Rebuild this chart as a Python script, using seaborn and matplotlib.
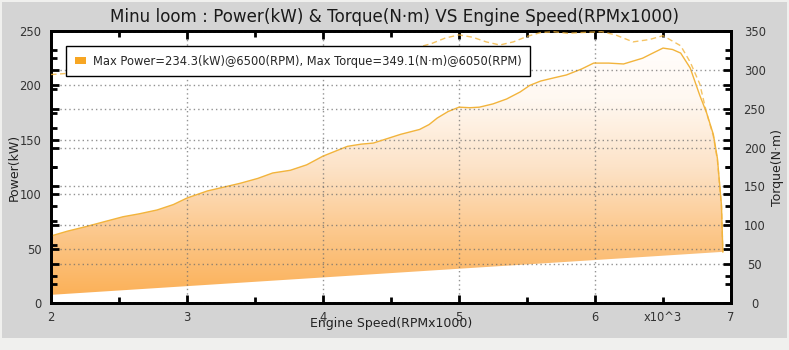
import numpy as np
import matplotlib
matplotlib.use("Agg")
import matplotlib.pyplot as plt
from matplotlib.colors import LinearSegmentedColormap
from matplotlib.patches import Polygon, Rectangle
from matplotlib.ticker import MultipleLocator, FixedLocator, FixedFormatter
import seaborn as sns

# ---- data -------------------------------------------------------------
rpm_power = [2.0, 2.12, 2.25, 2.4, 2.53, 2.65, 2.78, 2.9, 3.0, 3.15, 3.27, 3.39,
             3.52, 3.63, 3.76, 3.88, 4.0, 4.1, 4.18, 4.28, 4.37, 4.47, 4.57,
             4.71, 4.78, 4.84, 4.92, 5.0, 5.08, 5.15, 5.25, 5.35, 5.45, 5.52,
             5.6, 5.7, 5.79, 5.9, 5.99, 6.1, 6.21, 6.35, 6.43, 6.5, 6.57, 6.63,
             6.7, 6.77, 6.82, 6.87, 6.9, 6.93, 6.94]
power_kw = [61.6, 66.0, 70.0, 75.0, 79.3, 82.0, 85.5, 90.5, 96.5, 103.0, 106.5,
            110.0, 114.5, 119.5, 122.0, 127.0, 135.0, 140.0, 144.0, 146.0, 147.0,
            151.0, 155.0, 159.5, 164.0, 170.0, 176.0, 180.0, 179.5, 180.0, 183.0,
            187.5, 194.0, 200.0, 204.0, 207.0, 209.6, 215.0, 220.5, 220.5, 219.7,
            225.0, 230.0, 234.3, 233.0, 229.7, 216.0, 191.0, 175.0, 155.0, 133.0,
            90.0, 47.0]

rpm_torque = [2.0, 2.25, 2.5, 2.75, 3.0, 3.25, 3.5, 3.75, 4.0, 4.2, 4.4, 4.6,
              4.8, 4.9, 5.0, 5.1, 5.2, 5.3, 5.4, 5.5, 5.6, 5.7, 5.8, 5.9, 6.05,
              6.15, 6.28, 6.4, 6.5, 6.57, 6.63, 6.7, 6.77, 6.82, 6.87, 6.9, 6.93,
              6.94]
torque_nm = [294, 297, 302, 297, 307, 311, 300, 310, 322, 329, 320, 324, 334, 341,
             345, 342, 336, 332, 336, 343, 348, 349, 347, 348, 349.1, 345, 336,
             339, 344, 337, 331, 310, 282, 245, 215, 184, 124, 65]

# lower edge of the shaded power band
base_rpm = [2.0, 6.94]
base_kw = [7.5, 47.0]

x_ticks = [2, 3, 4, 5, 6, 7]
x_minor = [2.5, 3.5, 4.5, 5.5, 6.5]
x_minor_labels = ["", "", "", "", "x10^3"]

title = "Minu loom : Power(kW) & Torque(N\u00b7m) VS Engine Speed(RPMx1000)"
legend_text = ("Max Power=234.3(kW)@6500(RPM), "
               "Max Torque=349.1(N\u00b7m)@6050(RPM)")

# ---- style ------------------------------------------------------------
sns.set_style("white")
plt.rcParams["font.family"] = ["DejaVu Sans"]

line_col = "#f2b43c"
grid_kw = dict(color="#6e6e6e", linestyle=(0, (1.0, 2.2)), linewidth=1.0, alpha=0.75)

fig = plt.figure(figsize=(7.89, 3.5), dpi=100, facecolor="#f0f0ee")
fig.patches.append(Rectangle((2 / 789, 12 / 350), 785 / 789, 336 / 350,
                             transform=fig.transFigure, facecolor="#d4d4d4",
                             edgecolor="none", zorder=-10))

ax = fig.add_axes([51 / 789, 47 / 350, 680 / 789, 272 / 350])
ax.set_facecolor("white")

# gradient-filled band between the base line and the power curve
grad = np.linspace(0, 1, 256).reshape(-1, 1)
cmap = LinearSegmentedColormap.from_list(
    "band", ["#fbae52", "#fcc78a", "#fde3c8", "#fff8f1", "#ffffff"])
im = ax.imshow(grad, extent=[2, 7, 0, 250], origin="lower", aspect="auto",
               cmap=cmap, zorder=1, interpolation="bilinear")
verts = np.column_stack([rpm_power + base_rpm[::-1], power_kw + base_kw[::-1]])
band = Polygon(verts, closed=True, transform=ax.transData,
               facecolor="none", edgecolor="none")
ax.add_patch(band)
im.set_clip_path(band)

sns.lineplot(x=rpm_power, y=power_kw, ax=ax, color=line_col, linewidth=1.0,
             zorder=4)

ax.set_xlim(2, 7)
ax.set_ylim(0, 250)
ax.xaxis.set_major_locator(FixedLocator(x_ticks))
ax.xaxis.set_minor_locator(FixedLocator(x_minor))
ax.xaxis.set_minor_formatter(FixedFormatter(x_minor_labels))
ax.yaxis.set_major_locator(MultipleLocator(50))
ax.yaxis.set_minor_locator(MultipleLocator(25))
ax.set_axisbelow(False)
ax.grid(True, which="major", **grid_kw)

ax2 = ax.twinx()
sns.lineplot(x=rpm_torque, y=torque_nm, ax=ax2, color=line_col, linewidth=1.0,
             alpha=0.8, zorder=4)
ax2.lines[0].set_linestyle((0, (4, 2.5)))
ax2.set_ylim(0, 350)
ax2.yaxis.set_major_locator(MultipleLocator(50))
ax2.yaxis.set_minor_locator(MultipleLocator(25))
ax2.grid(True, which="major", axis="y", **grid_kw)

for a in (ax, ax2):
    for sp in a.spines.values():
        sp.set_linewidth(2)
        sp.set_color("black")
        sp.set_visible(True)

ax.tick_params(which="both", direction="in", top=True, bottom=True, left=True,
               right=True, labelright=False, labelleft=True, color="black",
               width=2, labelsize=8.3, labelcolor="#333333")
ax.tick_params(which="major", length=6)
ax.tick_params(which="minor", length=4)
ax.tick_params(axis="x", which="both", pad=5.5)
ax.tick_params(axis="y", which="major", pad=7)

ax2.tick_params(which="both", direction="in", left=True, right=True,
                labelleft=False, labelright=True, color="black", width=2,
                labelsize=8.3, labelcolor="#333333")
ax2.tick_params(which="major", length=6, pad=17)
ax2.tick_params(which="minor", length=4)
for lab in ax2.get_yticklabels():
    lab.set_horizontalalignment("center")

ax.set_xlabel("Engine Speed(RPMx1000)", fontsize=9, color="#222222", labelpad=-5)
ax.set_ylabel("Power(kW)", fontsize=9, color="#222222", labelpad=-1)
ax2.set_ylabel("Torque(N\u00b7m)", fontsize=9, color="#222222", labelpad=4)

fig.suptitle(title, x=395 / 789, y=0.951, va="center", fontsize=12.1,
             color="#1a1a1a")

handle = Rectangle((0, 0), 1, 1, facecolor="#f7a623", edgecolor="none")
leg = ax2.legend([handle], [legend_text], loc="upper left",
                 bbox_to_anchor=(0.022, 0.945), fontsize=8.3, frameon=True,
                 fancybox=False, borderpad=0.75, handlelength=1.0,
                 handleheight=0.55, handletextpad=0.6, borderaxespad=0)
leg.get_frame().set_edgecolor("black")
leg.get_frame().set_linewidth(1.0)
leg.get_frame().set_facecolor("white")
leg.get_frame().set_alpha(1)
leg.set_zorder(10)

fig.savefig("out.png", dpi=100, facecolor=fig.get_facecolor())
